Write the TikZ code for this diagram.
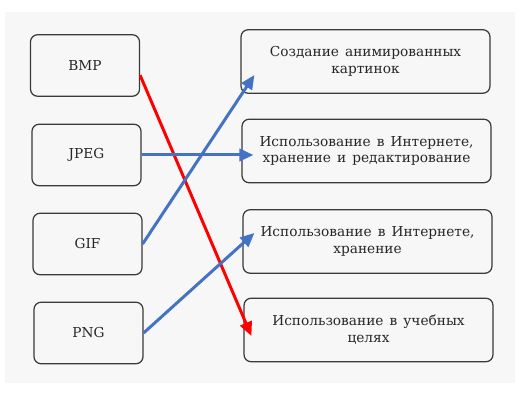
\documentclass[tikz,border=0pt]{standalone}
\usepackage{fontspec}
\setmainfont[WordSpace=1.4]{DejaVu Serif}
\usetikzlibrary{arrows.meta,calc}
\definecolor{linkblue}{HTML}{4472C4}
\definecolor{boxline}{HTML}{3A3A3A}

\begin{document}
\begin{tikzpicture}[x=0.02cm,y=-0.02cm,
  format/.style={draw=boxline,line width=0.7pt,rounded corners=4pt,
    minimum width=2.18cm,minimum height=1.23cm,font=\fontsize{7.8}{9.6}\selectfont,
    text=black!85},
  usage/.style={format,minimum width=4.98cm,minimum height=1.27cm,align=center},
  link/.style={line width=1.7pt,-{Triangle[length=8pt,width=7pt]}}]
\useasboundingbox (0,0) rectangle (518,404);
\fill[black!3] (5,12) rectangle (515,383);
% formats
\node[format] (bmp) at (85,65.5) {BMP};
\node[format] (jpeg) at (86.5,155) {JPEG};
\node[format] (gif) at (87.5,244) {GIF};
\node[format] (png) at (88.5,333) {PNG};
% usages
\node[usage] (anim) at (365.5,61.5) {Создание анимированных\\картинок};
\node[usage] (webedit) at (366.5,151) {Использование в Интернете,\\хранение и редактирование};
\node[usage] (webstore) at (367.5,241.5) {Использование в Интернете,\\хранение};
\node[usage] (edu) at (368.5,330) {Использование в учебных\\целях};
% links
\draw[link,red] (bmp.-10) -- ($(edu.west)+(8,6)$);
\draw[link,linkblue] (jpeg.east) -- ($(webedit.west)+(12,4)$);
\draw[link,linkblue] (gif.east) -- ($(anim.west)+(14,13.5)$);
\draw[link,linkblue] (png.east) -- ($(webstore.west)+(12,-8.5)$);
\end{tikzpicture}
\end{document}
